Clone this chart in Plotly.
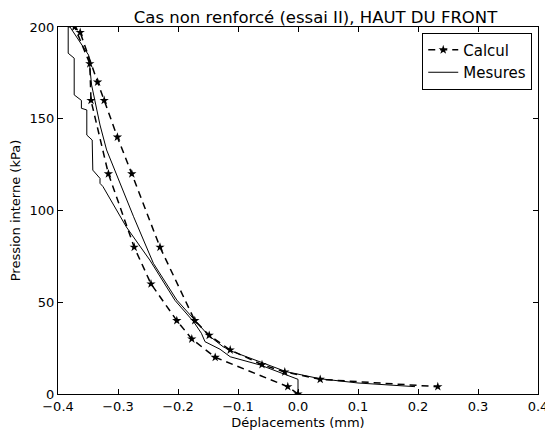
import plotly.graph_objects as go

# Calcul (loading + unloading branches)
calc_x = [0.0, -0.017, -0.138, -0.177, -0.202, -0.245, -0.273, -0.316, -0.345, -0.347, -0.372,
          -0.363, -0.334, -0.323, -0.301, -0.277, -0.230, -0.172, -0.148, -0.113, -0.060, -0.022, 0.037, 0.233]
calc_y = [0, 4, 20, 30, 40, 60, 80, 120, 160, 180, 200,
          197, 170, 160, 140, 120, 80, 40, 32, 24, 16, 12, 8, 4]

# Mesures
mes_x = [0.0, 0.0, -0.063, -0.113, -0.130, -0.155, -0.161, -0.174, -0.205, -0.230, -0.247, -0.286,
         -0.325, -0.330, -0.330, -0.342, -0.343, -0.352, -0.352, -0.361, -0.361, -0.373, -0.373, -0.383, -0.383,
         -0.380, -0.349, -0.344, -0.330, -0.319, -0.274, -0.241, -0.202, -0.150, -0.125, -0.108, -0.058,
         -0.020, 0.037, 0.100, 0.195]
mes_y = [0, 8, 15.8, 20.3, 24.4, 28.5, 33.1, 39.4, 51, 64, 73, 91,
         113, 114.8, 117.5, 122, 138.4, 141.1, 154.8, 155.7, 160, 163, 183, 185.7, 200,
         200, 184.7, 168.4, 146.6, 133, 96.6, 71.2, 51.2, 32.2, 25.8, 23, 16.7,
         12.2, 8.3, 6, 4]

x_ticks = [-0.4, -0.3, -0.2, -0.1, 0.0, 0.1, 0.2, 0.3, 0.4]
y_ticks = [0, 50, 100, 150, 200]

fig = go.Figure()
fig.add_trace(go.Scatter(
    x=calc_x, y=calc_y, mode="lines+markers", name="Calcul",
    line=dict(color="black", width=1.5, dash="7px,5px"),
    marker=dict(symbol="star", size=7, color="black"),
))
fig.add_trace(go.Scatter(
    x=mes_x, y=mes_y, mode="lines", name="Mesures",
    line=dict(color="black", width=1),
))

axis_common = dict(
    showgrid=False, zeroline=False, showline=True, linecolor="black", linewidth=1,
    mirror="allticks", ticks="inside", ticklen=5, tickcolor="black",
    tickfont=dict(family="DejaVu Sans", size=13, color="black"),
    ticklabeloverflow="allow", automargin=False,
)
fig.update_layout(
    width=545, height=430,
    margin=dict(l=58, r=7, t=27, b=36),
    paper_bgcolor="white", plot_bgcolor="white",
    font=dict(family="DejaVu Sans", color="black"),
    title=dict(text="Cas non renforcé (essai II), HAUT DU FRONT", x=0.579, xanchor="center",
               y=1 - 17 / 430, yanchor="middle", font=dict(size=16.5, color="black")),
    xaxis=dict(range=[-0.4, 0.4], tickvals=x_ticks, ticktext=[f"{v:.1f}".replace("-", "\u2212") for v in x_ticks],
               title=dict(text="Déplacements (mm)", font=dict(size=13), standoff=7), **axis_common),
    yaxis=dict(range=[0, 200], tickvals=y_ticks,
               title=dict(text="Pression interne (kPa)", font=dict(size=13), standoff=6), **axis_common),
    legend=dict(x=0.988, y=0.985, xanchor="right", yanchor="top", bgcolor="white",
                bordercolor="black", borderwidth=1, font=dict(size=15), tracegroupgap=0),
    showlegend=True,
)
fig.write_html("out.html")
